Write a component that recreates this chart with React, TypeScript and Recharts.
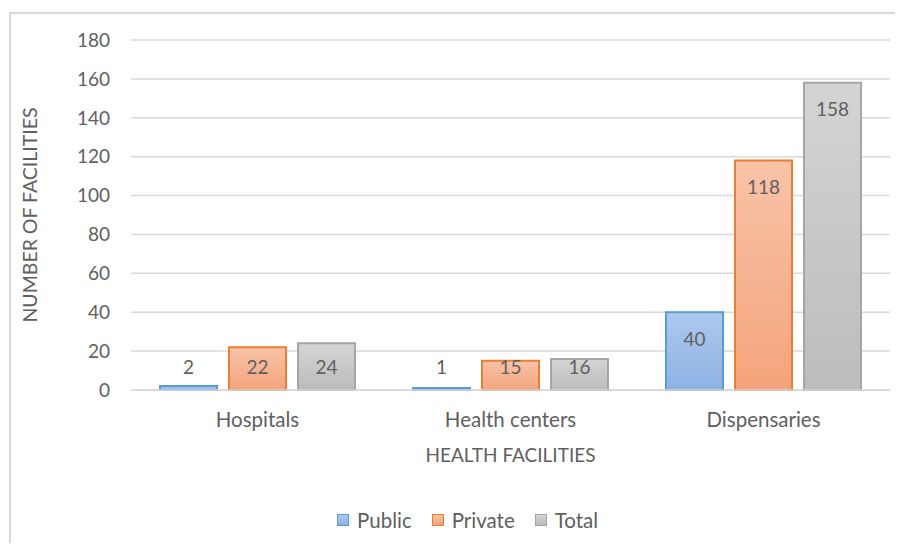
import React from 'react'
import { Bar, BarChart, CartesianGrid, LabelList, Legend, XAxis, YAxis } from 'recharts'

const categories = ['Hospitals', 'Health centers', 'Dispensaries']
const publicValues = [2, 1, 40]
const privateValues = [22, 15, 118]
const totalValues = [24, 16, 158]
const yTicks = [0, 20, 40, 60, 80, 100, 120, 140, 160, 180]

const SERIES = [
	{ key: 'Public', stroke: '#5b9bd5', top: '#adc9ee', bottom: '#8db2e3' },
	{ key: 'Private', stroke: '#ed7d31', top: '#f8c3a8', bottom: '#f4a47c' },
	{ key: 'Total', stroke: '#a5a5a5', top: '#d4d4d4', bottom: '#bcbcbc' },
]

const data = categories.map((name, i) => ({
	name,
	Public: publicValues[i],
	Private: privateValues[i],
	Total: totalValues[i],
}))

const FONT = 'Lato, "Open Sans", sans-serif'
const TEXT = '#606060'

const BarLabel = (props: any) => {
	const { x, y, width, height, value } = props
	// inside end, but never lower than the label height above the baseline
	const cy = Math.min(y + 26, y + height - 24)
	return (
		<text
			x={x + width / 2}
			y={cy}
			textAnchor="middle"
			dominantBaseline="central"
			fill={TEXT}
			fontSize={19}
			fontFamily={FONT}
		>
			{value}
		</text>
	)
}

const LegendContent = () => (
	<div style={{ display: 'flex', height: 24, alignItems: 'center', fontFamily: FONT, fontSize: 20.5, color: TEXT, paddingLeft: 329 }}>
		{SERIES.map((s) => (
			<div key={s.key} style={{ display: 'flex', alignItems: 'center', marginRight: 20 }}>
				<span
					style={{
						display: 'inline-block',
						width: 10,
						height: 10,
						border: `1.5px solid ${s.stroke}`,
						background: `linear-gradient(${s.top}, ${s.bottom})`,
						marginRight: 8,
					}}
				/>
				{s.key}
			</div>
		))}
	</div>
)

const App = () => {
	return (
		<div style={{ position: 'relative', width: 887, height: 535 }}>
			<div
				style={{
					position: 'absolute',
					left: 1,
					top: 4,
					width: 894,
					height: 531,
					borderLeft: '2px solid #d9d9d9',
					borderTop: '2px solid #d9d9d9',
					boxSizing: 'border-box',
				}}
			/>
			<BarChart
				width={887}
				height={535}
				data={data}
				margin={{ top: 32, right: 5, bottom: 49, left: 0 }}
				barSize={57}
				barGap={12}
				style={{ fontFamily: FONT }}
			>
				<defs>
					{SERIES.map((s) => (
						<linearGradient key={s.key} id={`grad-${s.key}`} x1="0" y1="0" x2="0" y2="1">
							<stop offset="0%" stopColor={s.top} />
							<stop offset="100%" stopColor={s.bottom} />
						</linearGradient>
					))}
				</defs>
				<CartesianGrid vertical={false} stroke="#d9d9d9" strokeWidth={1.5} />
				<XAxis
					dataKey="name"
					height={80}
					tickLine={false}
					axisLine={{ stroke: '#d9d9d9', strokeWidth: 1.5 }}
					tick={{ fill: TEXT, fontSize: 20.5 }}
					tickMargin={16}
					label={{ value: 'HEALTH FACILITIES', position: 'insideBottom', offset: 8, fill: TEXT, fontSize: 19 }}
				/>
				<YAxis
					width={123}
					domain={[0, 180]}
					ticks={yTicks}
					tickLine={false}
					axisLine={false}
					tick={{ fill: TEXT, fontSize: 19 }}
					tickMargin={15}
					label={{
						value: 'NUMBER OF FACILITIES',
						angle: -90,
						position: 'insideLeft',
						offset: 22,
						fill: TEXT,
						fontSize: 19.5,
						style: { textAnchor: 'middle' },
					}}
				/>
				<Legend content={<LegendContent />} wrapperStyle={{ top: 500, bottom: 'auto', left: 0, width: 887 }} />
				{SERIES.map((s) => (
					<Bar
						key={s.key}
						dataKey={s.key}
						fill={`url(#grad-${s.key})`}
						stroke={s.stroke}
						strokeWidth={2}
						isAnimationActive={false}
					>
						<LabelList dataKey={s.key} content={<BarLabel />} />
					</Bar>
				))}
			</BarChart>
		</div>
	)
}

export default App
